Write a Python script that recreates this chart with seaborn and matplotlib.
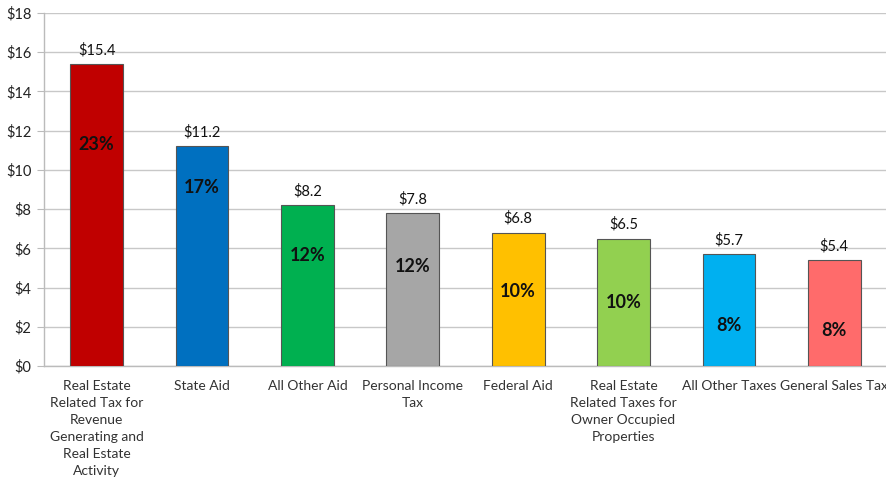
import matplotlib
matplotlib.use("Agg")
import matplotlib.pyplot as plt
import seaborn as sns
import pandas as pd
import numpy as np

categories = [
    "Real Estate\nRelated Tax for\nRevenue\nGenerating and\nReal Estate\nActivity",
    "State Aid",
    "All Other Aid",
    "Personal Income\nTax",
    "Federal Aid",
    "Real Estate\nRelated Taxes for\nOwner Occupied\nProperties",
    "All Other Taxes",
    "General Sales Tax",
]
values = [15.4, 11.2, 8.2, 7.8, 6.8, 6.5, 5.7, 5.4]
value_labels = ["$15.4", "$11.2", "$8.2", "$7.8", "$6.8", "$6.5", "$5.7", "$5.4"]
pct_labels = ["23%", "17%", "12%", "12%", "10%", "10%", "8%", "8%"]
pct_label_y = [11.3, 9.1, 5.65, 5.05, 3.8, 3.25, 2.05, 1.8]
colors = ["#C00000", "#0070C0", "#00B050", "#A6A6A6", "#FFC000", "#92D050", "#00B0F0", "#FF6B6B"]
y_ticks = [0, 2, 4, 6, 8, 10, 12, 14, 16, 18]

sns.set_style("white")
plt.rcParams["font.family"] = ["Lato", "DejaVu Sans"]

df = pd.DataFrame({"cat": categories, "val": values})
fig = plt.figure(figsize=(8.87, 4.82), dpi=100)
ax = fig.add_axes([44/887, 1-366/482, 1-44/887, 353/482])

sns.barplot(data=df, x="cat", y="val", hue="cat", palette=colors, legend=False,
            saturation=1, width=0.5, edgecolor="#555555", linewidth=0.8, ax=ax, zorder=3)

ax.set_ylim(0, 18)
ax.set_xlim(-0.5, len(categories) - 0.5)
ax.set_yticks(y_ticks)
ax.set_yticklabels([f"${t}" for t in y_ticks], fontsize=10.5, color="#222222")
ax.yaxis.grid(True, color="#C8C8C8", linewidth=1, zorder=0)
ax.set_axisbelow(True)
ax.set_xlabel("")
ax.set_ylabel("")

ax.set_xticks(range(len(categories)))
ax.set_xticklabels(categories, fontsize=10, color="#333333", linespacing=1.5, va="top")
ax.tick_params(axis="x", length=0, pad=10)
ax.set_xticks(np.arange(-0.5, len(categories), 1.0), minor=True)
ax.tick_params(axis="x", which="minor", length=5, color="#BBBBBB", direction="out")
ax.tick_params(axis="y", length=5, color="#BBBBBB", direction="out", pad=4, left=True)

for s in ["top", "right"]:
    ax.spines[s].set_visible(False)
for s in ["left", "bottom"]:
    ax.spines[s].set_color("#BBBBBB")
    ax.spines[s].set_linewidth(1)

for i, (v, vl, pl, py) in enumerate(zip(values, value_labels, pct_labels, pct_label_y)):
    ax.text(i, v + 0.35, vl, ha="center", va="bottom", fontsize=10.5, color="#111111")
    ax.text(i, py, pl, ha="center", va="center", fontsize=13, fontweight="bold", color="#111111")

fig.savefig("out.png", dpi=100)
